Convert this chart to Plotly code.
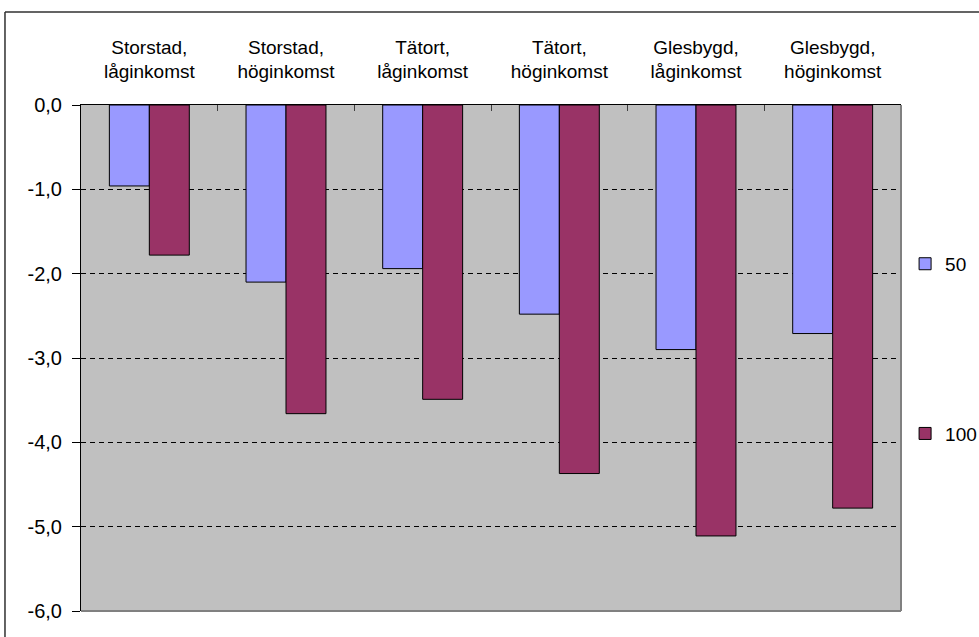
import plotly.graph_objects as go

categories = ["Storstad,<br>låginkomst", "Storstad,<br>höginkomst", "Tätort,<br>låginkomst",
              "Tätort,<br>höginkomst", "Glesbygd,<br>låginkomst", "Glesbygd,<br>höginkomst"]
series_names = ["50", "100"]
values_50 = [-0.96, -2.10, -1.94, -2.48, -2.90, -2.71]
values_100 = [-1.78, -3.66, -3.49, -4.37, -5.11, -4.78]
colors = ["#9999FF", "#993366"]
y_ticks = [0, -1, -2, -3, -4, -5, -6]
y_tick_labels = ["0,0", "-1,0", "-2,0", "-3,0", "-4,0", "-5,0", "-6,0"]

FONT = "Liberation Sans, Arial, sans-serif"

fig = go.Figure()
for name, vals, col in zip(series_names, [values_50, values_100], colors):
    fig.add_trace(go.Bar(
        x=categories, y=vals, name=name, legendgroup=name,
        marker=dict(color=col, line=dict(color="black", width=1)),
    ))

fig.update_layout(
    width=979, height=637,
    margin=dict(l=81, r=78, t=105, b=26, autoexpand=False),
    paper_bgcolor="white", plot_bgcolor="#C0C0C0",
    barmode="group", bargap=0.415, bargroupgap=0,
    font=dict(family=FONT, size=20, color="black"),
    showlegend=True,
    legend=dict(xref="container", x=0.9245, xanchor="left", y=0.518, yanchor="middle",
                tracegroupgap=142, font=dict(size=19), bgcolor="rgba(0,0,0,0)",
                itemwidth=30),
    xaxis=dict(side="top", showline=True, linecolor="black", linewidth=1,
               ticks="inside", tickson="boundaries", ticklen=6, tickcolor="#404040",
               showgrid=False, tickfont=dict(size=19), ticklabelstandoff=18,
               fixedrange=True),
    yaxis=dict(range=[-6, 0], tickvals=y_ticks, ticktext=y_tick_labels,
               showline=True, linecolor="black", linewidth=1,
               ticks="outside", ticklen=8, tickcolor="black",
               showgrid=True, gridcolor="black", gridwidth=1, griddash="5px,4px",
               zeroline=False, tickfont=dict(size=20), ticklabelstandoff=6,
               fixedrange=True),
    shapes=[
        # plot area border (gray right/bottom)
        dict(type="line", xref="paper", yref="paper", x0=1, x1=1, y0=0, y1=1,
             line=dict(color="#808080", width=2)),
        dict(type="line", xref="paper", yref="paper", x0=0, x1=1, y0=0, y1=0,
             line=dict(color="#808080", width=2)),
        # outer chart border
        dict(type="line", xref="paper", yref="paper", x0=-0.0927, x1=1.2, y0=1.1838, y1=1.1838,
             line=dict(color="#303030", width=1.5)),
        dict(type="line", xref="paper", yref="paper", x0=-0.0927, x1=-0.0927, y0=1.1838, y1=-0.2,
             line=dict(color="#303030", width=1.5)),
    ],
)

fig.write_html("out.html")
